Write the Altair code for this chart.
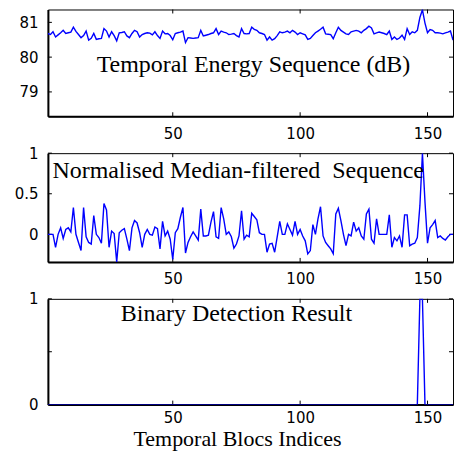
import altair as alt
import pandas as pd

# ---------------- data ----------------
block_index = list(range(1, 163))

energy_db = [
    80.68, 80.65, 80.73, 80.58, 80.64, 80.70, 80.77, 80.68, 80.70, 80.72,
    80.86, 80.74, 80.65, 80.56, 80.62, 80.75, 80.49, 80.54, 80.68, 80.51,
    80.53, 80.54, 80.82, 80.75, 80.58, 80.73, 80.62, 80.47, 80.70, 80.71,
    80.73, 80.61, 80.56, 80.68, 80.77, 80.73, 80.58, 80.65, 80.68, 80.70,
    80.69, 80.64, 80.73, 80.62, 80.54, 80.75, 80.67, 80.68, 80.62, 80.50,
    80.68, 80.70, 80.72, 80.75, 80.42, 80.56, 80.55, 80.54, 80.55, 80.56,
    80.77, 80.61, 80.63, 80.65, 80.68, 80.70, 80.82, 80.65, 80.75, 80.72,
    80.70, 80.65, 80.66, 80.68, 80.62, 80.58, 80.82, 80.68, 80.67, 80.68,
    80.86, 80.80, 80.77, 80.70, 80.68, 80.65, 80.49, 80.58, 80.49, 80.53,
    80.62, 80.73, 80.70, 80.72, 80.75, 80.70, 80.77, 80.72, 80.65, 80.70,
    80.67, 80.64, 80.51, 80.54, 80.62, 80.70, 80.75, 80.80, 80.86, 80.67,
    80.66, 80.65, 80.53, 80.70, 80.86, 80.77, 80.72, 80.67, 80.65, 80.73,
    80.75, 80.77, 80.75, 80.70, 80.77, 80.82, 80.89, 80.84, 80.67, 80.70,
    80.72, 80.70, 80.68, 80.65, 80.75, 80.51, 80.58, 80.51, 80.55, 80.63,
    80.51, 80.82, 80.65, 80.73, 80.70, 80.77, 81.14, 81.36, 80.98, 80.70,
    80.79, 80.77, 80.70, 80.70, 80.69, 80.67, 80.70, 80.72, 80.75, 80.49,
    80.82, 80.19,
]

median_norm = [
    0.0, 0.0, 0.0, -0.16, 0.0, 0.08, -0.05, 0.06, 0.08, 0.03,
    0.33, 0.0, -0.1, -0.2, 0.33, -0.03, -0.1, -0.12, 0.23, 0.0,
    -0.04, -0.11, 0.38, 0.3, -0.16, 0.04, 0.01, -0.34, 0.02, 0.05,
    0.07, -0.06, -0.2, 0.08, 0.17, 0.14, 0.02, -0.16, 0.0, 0.06,
    0.0, -0.01, 0.09, 0.07, -0.18, 0.16, -0.02, 0.04, -0.06, -0.31,
    0.02, 0.07, 0.21, 0.33, -0.23, -0.1, -0.03, 0.03, -0.02, -0.07,
    0.31, -0.02, -0.02, -0.01, 0.15, 0.28, -0.03, -0.05, 0.33, 0.19,
    0.0, 0.03, -0.03, -0.17, -0.12, -0.02, 0.29, -0.06, -0.01, -0.03,
    0.26, 0.22, 0.18, 0.02, 0.0, 0.0, -0.22, -0.12, -0.11, -0.22,
    -0.03, 0.16, 0.0, 0.0, 0.13, 0.06, -0.01, 0.16, 0.0, 0.06,
    -0.02, -0.08, -0.24, -0.2, 0.12, 0.0, 0.19, 0.34, -0.02, -0.1,
    -0.14, -0.18, -0.24, 0.25, 0.32, 0.17, 0.0, -0.14, 0.0, -0.02,
    0.15, 0.04, 0.08, -0.02, -0.06, 0.25, 0.31, -0.06, -0.11, 0.19,
    0.0, 0.0, 0.0, 0.0, 0.24, -0.16, -0.04, -0.08, -0.02, -0.16,
    0.24, 0.24, -0.14, -0.12, -0.11, -0.04, 0.35, 1.0, 0.4, -0.11,
    0.08, 0.12, 0.17, -0.04, -0.02, -0.05, -0.07, -0.03, 0.0, 0.0,
    0.0, 0.0,
]

binary_result = [
    0, 0, 0, 0, 0, 0, 0, 0, 0, 0,
    0, 0, 0, 0, 0, 0, 0, 0, 0, 0,
    0, 0, 0, 0, 0, 0, 0, 0, 0, 0,
    0, 0, 0, 0, 0, 0, 0, 0, 0, 0,
    0, 0, 0, 0, 0, 0, 0, 0, 0, 0,
    0, 0, 0, 0, 0, 0, 0, 0, 0, 0,
    0, 0, 0, 0, 0, 0, 0, 0, 0, 0,
    0, 0, 0, 0, 0, 0, 0, 0, 0, 0,
    0, 0, 0, 0, 0, 0, 0, 0, 0, 0,
    0, 0, 0, 0, 0, 0, 0, 0, 0, 0,
    0, 0, 0, 0, 0, 0, 0, 0, 0, 0,
    0, 0, 0, 0, 0, 0, 0, 0, 0, 0,
    0, 0, 0, 0, 0, 0, 0, 0, 0, 0,
    0, 0, 0, 0, 0, 0, 0, 0, 0, 0,
    0, 0, 0, 0, 0, 0, 1, 1, 0, 0,
    0, 0, 0, 0, 0, 0, 0, 0, 0, 0,
    0, 0,
]

x_ticks = [50, 100, 150]
y_ticks_energy = [79, 80, 81]
y_ticks_median = [0, 0.5, 1]
y_ticks_binary = [0, 0.5, 1]

title_energy = "Temporal Energy Sequence (dB)"
title_median = "Normalised Median-filtered\u00a0 Sequence"
title_binary = "Binary Detection Result"
x_title = "Temporal Blocs Indices"

# ---------------- styling ----------------
W = 406
SANS = "DejaVu Sans"
SERIF = "Liberation Serif"
BLUE = "#0000ff"
X_DOMAIN = [1, 160]


def panel(values, ydomain, yticks, H, label, lx, ly, lalign, hide_half=False,
          x_title_text=None, xlab_pad=10):
    df = pd.DataFrame({"i": block_index, "v": values})
    xaxis = alt.Axis(
        values=x_ticks, title=None, tickSize=0, labelPadding=xlab_pad, labelFont=SANS,
        labelFontSize=15, labelColor="black", domainColor="black", domainWidth=2,
        grid=False, labelFlush=False,
    )
    yaxis_kwargs = dict(
        values=yticks, title=None, tickSize=0, labelPadding=10, labelFont=SANS,
        labelFontSize=15, labelColor="black", domainColor="black", domainWidth=2,
        grid=False, format="~g", labelFlush=False, minExtent=39.5, maxExtent=39.5,
    )
    if hide_half:
        yaxis_kwargs["labelExpr"] = "datum.value == 0.5 ? '' : datum.label"
    yaxis = alt.Axis(**yaxis_kwargs)
    xs = alt.Scale(domain=X_DOMAIN, nice=False, zero=False)
    ys = alt.Scale(domain=ydomain, nice=False, zero=False)

    line = alt.Chart(df).mark_line(color=BLUE, strokeWidth=1.4, clip=True).encode(
        x=alt.X("i:Q", scale=xs, axis=xaxis),
        y=alt.Y("v:Q", scale=ys, axis=yaxis),
    )
    xt = pd.DataFrame({"i": x_ticks})
    yt = pd.DataFrame({"v": yticks})
    top_t = alt.Chart(xt).mark_rule(color="black", strokeWidth=1).encode(
        x=alt.X("i:Q"), y=alt.value(0), y2=alt.value(4))
    bot_t = alt.Chart(xt).mark_rule(color="black", strokeWidth=1).encode(
        x=alt.X("i:Q"), y=alt.value(H - 4), y2=alt.value(H))
    left_t = alt.Chart(yt).mark_rule(color="black", strokeWidth=1).encode(
        y=alt.Y("v:Q"), x=alt.value(0), x2=alt.value(4))
    right_t = alt.Chart(yt).mark_rule(color="black", strokeWidth=1).encode(
        y=alt.Y("v:Q"), x=alt.value(W - 4), x2=alt.value(W))
    txt = alt.Chart(pd.DataFrame({"t": [label]})).mark_text(
        font=SERIF, fontSize=24, color="black", align=lalign, baseline="alphabetic"
    ).encode(text="t:N", x=alt.value(lx), y=alt.value(ly))
    layers = [left_t, right_t, top_t, bot_t, line, txt]
    if x_title_text:
        xt_txt = alt.Chart(pd.DataFrame({"t": [x_title_text]})).mark_text(
            font=SERIF, fontSize=22, color="black", align="center", baseline="alphabetic"
        ).encode(text="t:N", x=alt.value(190), y=alt.value(H + 41.5))
        layers.append(xt_txt)
    return alt.layer(*layers).properties(width=W, height=H)


p1 = panel(energy_db, [78.3, 81.37], y_ticks_energy, 107, title_energy, 206, 63, "center")
p2 = panel(median_norm, [-0.34, 1], y_ticks_median, 109, title_median, 4.5, 25, "left")
p3 = panel(binary_result, [0, 1], y_ticks_binary, 106, title_binary, 189, 22, "center",
           hide_half=True, x_title_text=x_title, xlab_pad=6)

chart = alt.vconcat(p1, p2, p3, spacing=37, bounds="flush").properties(
    padding={"left": 0, "top": 0, "right": 0, "bottom": 0}
).configure_view(stroke="black", strokeWidth=1)

chart.save("out.html", embed_options={"renderer": "svg", "actions": False})
